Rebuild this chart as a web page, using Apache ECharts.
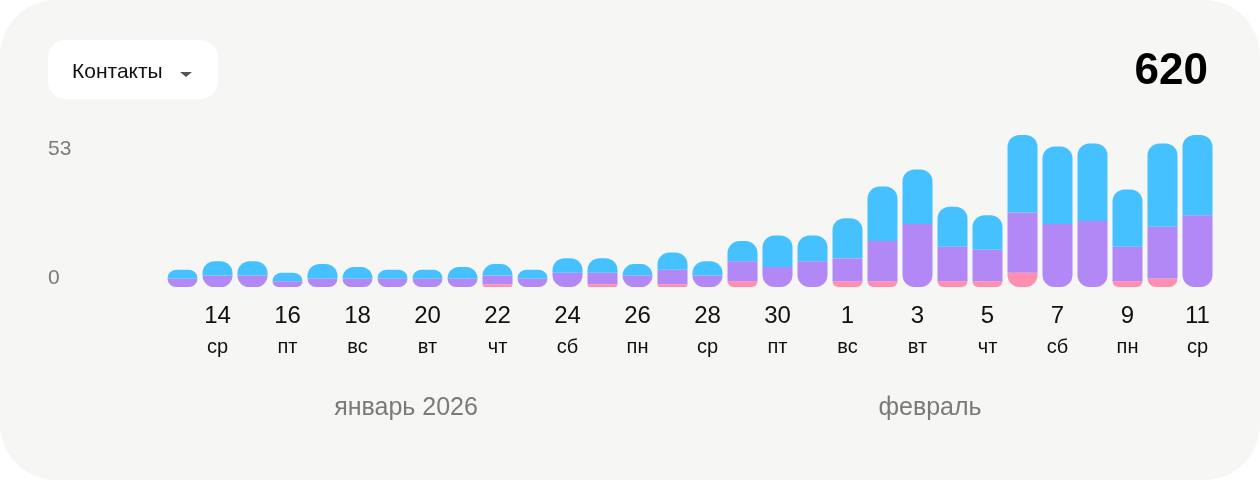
<!DOCTYPE html>
<html>
<head>
<meta charset="utf-8">
<script src="https://cdn.jsdelivr.net/npm/echarts@6/dist/echarts.min.js"></script>
<style>
  html, body { margin: 0; padding: 0; background: #fff; }
  #chart { width: 1260px; height: 480px; background: #f6f6f4; border-radius: 56px; overflow: hidden; }
</style>
</head>
<body>
<div id="chart"></div>
<script>
// дни 13 янв – 11 фев 2026
var days = ['13', '14', '15', '16', '17', '18', '19', '20', '21', '22', '23', '24', '25', '26', '27', '28', '29', '30', '31',
  '1', '2', '3', '4', '5', '6', '7', '8', '9', '10', '11'];
var weekdays = ['вт', 'ср', 'чт', 'пт', 'сб', 'вс', 'пн', 'вт', 'ср', 'чт', 'пт', 'сб', 'вс', 'пн', 'вт', 'ср', 'чт', 'пт', 'сб',
  'вс', 'пн', 'вт', 'ср', 'чт', 'пт', 'сб', 'вс', 'пн', 'вт', 'ср'];
var pinkValues = [0, 0, 0, 0, 0, 0, 0, 0, 0, 1, 0, 0, 1, 0, 1, 0, 2, 0, 0, 2, 2, 0, 2, 2, 5, 0, 0, 2, 3, 0];
var purpleValues = [3, 4, 4, 2, 3, 3, 3, 3, 3, 3, 3, 5, 4, 4, 5, 4, 7, 7, 9, 8, 14, 22, 12, 11, 21, 22, 23, 12, 18, 25];
var blueValues = [3, 5, 5, 3, 5, 4, 3, 3, 4, 4, 3, 5, 5, 4, 6, 5, 7, 11, 9, 14, 19, 19, 14, 12, 27, 27, 27, 20, 29, 28];
var yTicks = [0, 53];
var monthLabels = ['январь 2026', 'февраль'];
var totalLabel = '620';
var selectorLabel = 'Контакты';

var FONT = "'Liberation Sans', Arial, sans-serif";
var R = 12;

// скругляем только верхний и нижний непустой сегмент столбика
function radiusFor(i, level) {
  var vals = [pinkValues[i], purpleValues[i], blueValues[i]];
  var lowest = -1, highest = -1;
  for (var k = 0; k < vals.length; k++) {
    if (vals[k] > 0) {
      if (lowest < 0) lowest = k;
      highest = k;
    }
  }
  var r = [0, 0, 0, 0];
  if (level === highest) { r[0] = R; r[1] = R; }
  if (level === lowest) { r[2] = R; r[3] = R; }
  return r;
}

function seriesData(values, level) {
  return values.map(function (v, i) {
    return { value: v, itemStyle: { borderRadius: radiusFor(i, level) } };
  });
}

var chart = echarts.init(document.getElementById('chart'));
chart.setOption({
  animation: false,
  backgroundColor: 'transparent',
  textStyle: { fontFamily: FONT },
  grid: { left: 165, right: 45, top: 135, bottom: 193 },
  xAxis: {
    type: 'category',
    data: days,
    axisLine: { show: false },
    axisTick: { show: false },
    axisLabel: {
      interval: function (i) { return i % 2 === 1; },
      margin: 14,
      formatter: function (v, i) { return '{d|' + v + '}\n{w|' + weekdays[i] + '}'; },
      rich: {
        d: { fontSize: 24, lineHeight: 30, color: '#111', fontFamily: FONT },
        w: { fontSize: 20, lineHeight: 32, color: '#111', fontFamily: FONT }
      }
    }
  },
  yAxis: {
    type: 'value',
    min: yTicks[0],
    max: yTicks[1],
    interval: yTicks[1] - yTicks[0],
    splitLine: { show: false },
    axisLine: { show: false },
    axisTick: { show: false },
    axisLabel: {
      align: 'left',
      margin: 117,
      verticalAlignMinLabel: 'bottom',
      verticalAlignMaxLabel: 'top',
      formatter: function (v) { return v === yTicks[1] ? '{t|' + v + '}' : '{b|' + v + '}'; },
      rich: {
        t: { fontSize: 21, lineHeight: 29, color: '#7b7b7b', fontFamily: FONT },
        b: { fontSize: 21, lineHeight: 17, color: '#7b7b7b', fontFamily: FONT }
      }
    }
  },
  series: [
    { type: 'bar', stack: 'all', barWidth: 30, data: seriesData(pinkValues, 0), itemStyle: { color: '#ff8eb0' } },
    { type: 'bar', stack: 'all', barWidth: 30, data: seriesData(purpleValues, 1), itemStyle: { color: '#b287f6' } },
    { type: 'bar', stack: 'all', barWidth: 30, data: seriesData(blueValues, 2), itemStyle: { color: '#45c1ff' } }
  ],
  graphic: [
    { type: 'rect', shape: { x: 48, y: 40, width: 170, height: 59, r: 18 }, style: { fill: '#fff' } },
    { type: 'text', x: 72, y: 72, style: { text: selectorLabel, fontSize: 21, fontFamily: FONT, fill: '#111', verticalAlign: 'middle' } },
    { type: 'polygon', shape: { points: [[180, 72], [192, 72], [186, 77]] }, style: { fill: '#555' } },
    { type: 'text', x: 1208, y: 72, style: { text: totalLabel, fontSize: 44, fontWeight: 'bold', fontFamily: FONT, fill: '#000', align: 'right', verticalAlign: 'middle' } },
    { type: 'text', x: 406, y: 408, style: { text: monthLabels[0], fontSize: 25, fontFamily: FONT, fill: '#7a7a7a', align: 'center', verticalAlign: 'middle' } },
    { type: 'text', x: 930, y: 408, style: { text: monthLabels[1], fontSize: 25, fontFamily: FONT, fill: '#7a7a7a', align: 'center', verticalAlign: 'middle' } }
  ]
});
</script>
</body>
</html>
